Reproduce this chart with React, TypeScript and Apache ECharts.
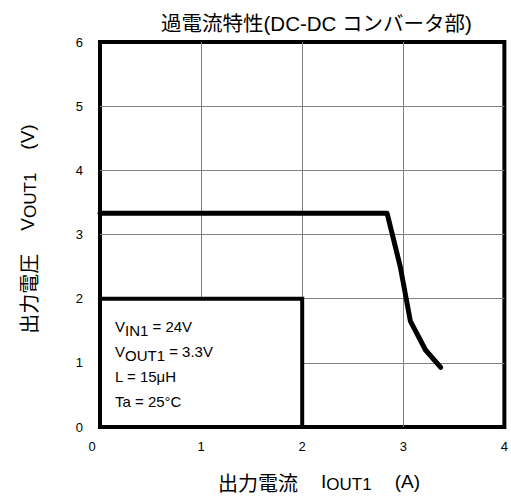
import React, { useEffect, useRef } from "react";
import * as echarts from "echarts";

const xTicks = [0, 1, 2, 3, 4];
const yTicks = [0, 1, 2, 3, 4, 5, 6];
const currentA = [0, 2.84, 2.97, 3.07, 3.22, 3.37];
const voltageV = [3.33, 3.33, 2.5, 1.65, 1.2, 0.93];
const conditionBox = { x0: 0, y0: 0, x1: 2, y1: 2 };
const titleText = "過電流特性(DC-DC コンバータ部)";
const conditionLines = [
  ["V", "IN1", " = 24V"],
  ["V", "OUT1", " = 3.3V"],
  ["L = 15μH", "", ""],
  ["Ta = 25°C", "", ""],
];

const LAT = "'Liberation Sans', Arial, sans-serif";
const CJK = "'Noto Sans CJK JP', 'Liberation Sans', sans-serif";
const MIX = "'Liberation Sans', 'Noto Sans CJK JP', sans-serif";

export default function App() {
  const ref = useRef<HTMLDivElement>(null);
  useEffect(() => {
    if (!ref.current) return;
    const chart = echarts.init(ref.current, undefined, { renderer: "svg" });
    const data = currentA.map((x, i) => [x, voltageV[i]]);
    const condText = conditionLines
      .map(([a, b, c]) => `{n|${a}}` + (b ? `{s|${b}}` : "") + (c ? `{n|${c}}` : ""))
      .join("\n");
    const titleRich = {
      c: { fontSize: 20, fontFamily: CJK, lineHeight: 24, verticalAlign: "top", color: "#000" },
      l: { fontSize: 19, fontFamily: LAT, lineHeight: 24, verticalAlign: "top", color: "#000" },
      s: { fontSize: 17, fontFamily: LAT, lineHeight: 20, padding: [4, 0, 0, 0], verticalAlign: "top", color: "#000" },
      g: { width: 23, lineHeight: 24 },
    };
    chart.setOption({
      animation: false,
      backgroundColor: "#fff",
      title: {
        text: titleText,
        left: 156,
        top: 8,
        textStyle: { fontSize: 20.5, fontWeight: "normal", fontFamily: MIX, color: "#000" },
      },
      grid: {
        left: 100,
        right: 5,
        top: 42,
        bottom: 71,
        show: true,
        borderColor: "#000",
        borderWidth: 4,
        backgroundColor: "transparent",
      },
      xAxis: {
        type: "value",
        min: xTicks[0],
        max: xTicks[xTicks.length - 1],
        interval: 1,
        axisLine: { show: false },
        axisTick: { show: false },
        splitLine: { show: true, showMinLine: false, showMaxLine: false, lineStyle: { color: "#808080", width: 1 } },
        axisLabel: {
          margin: 13,
          fontSize: 13,
          fontFamily: LAT,
          color: "#000",
          formatter: (v: number) => (v === 0 ? "{z|0}" : String(v)),
          rich: { z: { fontSize: 13, fontFamily: LAT, color: "#000", padding: [0, 16, 0, 0] } },
        },
      },
      yAxis: {
        type: "value",
        min: yTicks[0],
        max: yTicks[yTicks.length - 1],
        interval: 1,
        axisLine: { show: false },
        axisTick: { show: false },
        splitLine: { show: true, showMinLine: false, showMaxLine: false, lineStyle: { color: "#808080", width: 1 } },
        axisLabel: {
          margin: 17,
          fontSize: 13,
          fontFamily: LAT,
          color: "#000",
          formatter: (v: number) => "{y|" + v + "}",
          rich: { y: { fontSize: 13, fontFamily: LAT, color: "#000", padding: [0, 0, 0, 0] } },
        },
      },
      series: [
        {
          type: "line",
          data,
          symbol: "none",
          lineStyle: { color: "#000", width: 5, join: "round", cap: "round" },
          z: 5,
          markArea: {
            silent: true,
            itemStyle: { color: "#fff", borderColor: "#000", borderWidth: 4 },
            label: {
              show: true,
              position: "insideLeft",
              distance: 17,
              offset: [0, 6],
              formatter: condText,
              rich: {
                n: { fontSize: 15, fontFamily: LAT, lineHeight: 25, verticalAlign: "top", color: "#000" },
                s: { fontSize: 15, fontFamily: LAT, lineHeight: 20, padding: [4, 0, 0, 0], verticalAlign: "top", color: "#000" },
              },
            },
            data: [[{ coord: [conditionBox.x0, conditionBox.y0] }, { coord: [conditionBox.x1, conditionBox.y1] }]],
          },
        },
      ],
      graphic: [
        {
          type: "text",
          x: 319,
          y: 484,
          style: {
            text: "{c|出力電流}{g| }{l|I}{s|OUT1}{g| }{l|(A)}",
            align: "center",
            verticalAlign: "middle",
            rich: titleRich,
          },
        },
        {
          type: "text",
          x: 30,
          y: 229,
          rotation: Math.PI / 2,
          style: {
            text: "{c|出力電圧}{g| }{l|V}{s|OUT1}{g| }{l|(V)}",
            align: "center",
            verticalAlign: "middle",
            rich: titleRich,
          },
        },
      ],
    });
    return () => chart.dispose();
  }, []);
  return <div ref={ref} style={{ position: "fixed", left: 0, top: 0, width: 511, height: 498 }} />;
}
